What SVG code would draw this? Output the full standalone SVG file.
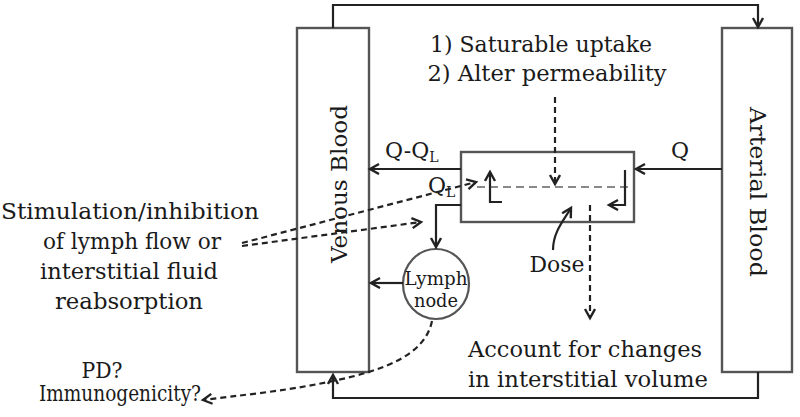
<svg xmlns="http://www.w3.org/2000/svg" width="800" height="417" viewBox="0 0 800 417">
<style>
  text { font-family: "DejaVu Serif", "Liberation Serif", serif; fill: #1a1a1a; }
  .box { fill: #fff; stroke: #555; stroke-width: 2.4; }
  .ln { fill: none; stroke: #222; stroke-width: 2.2; }
  .dash { fill: none; stroke: #222; stroke-width: 2.2; stroke-dasharray: 6 4; }
  .mid { fill: none; stroke: #888; stroke-width: 2.2; stroke-dasharray: 8 5; }
</style>
<defs>
  <marker id="ah" markerUnits="userSpaceOnUse" markerWidth="14" markerHeight="14" refX="10" refY="6" orient="auto">
    <path d="M1,1 L10,6 L1,11" fill="none" stroke="#222" stroke-width="2.4"/>
  </marker>
</defs>
<rect width="800" height="417" fill="#fff"/>

<g id="venous">
  <rect class="box" x="297" y="28" width="72" height="344"/>
  <text transform="translate(347,184) rotate(-90)" font-size="23" text-anchor="middle" textLength="158" lengthAdjust="spacingAndGlyphs">Venous Blood</text>
</g>
<g id="arterial">
  <rect class="box" x="722" y="28" width="70" height="344"/>
  <text transform="translate(750,192) rotate(90)" font-size="23" text-anchor="middle" textLength="170" lengthAdjust="spacingAndGlyphs">Arterial Blood</text>
</g>
<g id="tissue">
  <rect class="box" x="461" y="152" width="173" height="70"/>
  <path class="mid" d="M477,187 H633"/>
</g>
<g id="lymph">
  <ellipse cx="436" cy="284" rx="33" ry="35" fill="#fff" stroke="#555" stroke-width="2.2"/>
  <text x="436" y="285" font-size="19" text-anchor="middle" textLength="63" lengthAdjust="spacingAndGlyphs">Lymph</text>
  <text x="436" y="307" font-size="19" text-anchor="middle" textLength="44" lengthAdjust="spacingAndGlyphs">node</text>
</g>

<g id="labels">
  <text x="541" y="52" font-size="22" text-anchor="middle" textLength="222" lengthAdjust="spacingAndGlyphs">1) Saturable uptake</text>
  <text x="547" y="81" font-size="22" text-anchor="middle" textLength="239" lengthAdjust="spacingAndGlyphs">2) Alter permeability</text>
  <text x="385" y="158" font-size="22">Q-Q<tspan font-size="14" dy="4">L</tspan></text>
  <text x="428" y="193" font-size="22">Q<tspan font-size="14" dy="4">L</tspan></text>
  <text x="671" y="158" font-size="22">Q</text>
  <text x="557" y="272" font-size="22" text-anchor="middle" textLength="55" lengthAdjust="spacingAndGlyphs">Dose</text>
  <text x="585" y="357" font-size="22" text-anchor="middle" textLength="234" lengthAdjust="spacingAndGlyphs">Account for changes</text>
  <text x="588" y="387" font-size="22" text-anchor="middle" textLength="240" lengthAdjust="spacingAndGlyphs">in interstitial volume</text>
  <text x="130" y="219" font-size="23" text-anchor="middle" textLength="258" lengthAdjust="spacingAndGlyphs">Stimulation/inhibition</text>
  <text x="132" y="249" font-size="23" text-anchor="middle" textLength="178" lengthAdjust="spacingAndGlyphs">of lymph flow or</text>
  <text x="129" y="279" font-size="23" text-anchor="middle" textLength="178" lengthAdjust="spacingAndGlyphs">interstitial fluid</text>
  <text x="129" y="309" font-size="23" text-anchor="middle" textLength="148" lengthAdjust="spacingAndGlyphs">reabsorption</text>
  <text x="102" y="378" font-size="22" text-anchor="middle" textLength="41" lengthAdjust="spacingAndGlyphs">PD?</text>
  <text x="120" y="401" font-size="22" text-anchor="middle" textLength="162" lengthAdjust="spacingAndGlyphs">Immunogenicity?</text>
</g>

<g id="connectors">
  <path class="ln" d="M333,28 V5 H758 V27" marker-end="url(#ah)"/>
  <path class="ln" d="M758,372 V398 H333 V375" marker-end="url(#ah)"/>
  <path class="ln" d="M722,169 H636" marker-end="url(#ah)"/>
  <path class="ln" d="M461,169 H370" marker-end="url(#ah)"/>
  <path class="ln" d="M461,205 H436 V247" marker-end="url(#ah)"/>
  <path class="ln" d="M403,283 H371" marker-end="url(#ah)"/>
  <path class="ln" d="M502,202 H490 V172" marker-end="url(#ah)"/>
  <path class="ln" d="M625,170 V205 H609" marker-end="url(#ah)"/>
  <path class="ln" d="M553,250 C553,232 564,220 571,208" marker-end="url(#ah)"/>
  <path class="dash" d="M555,97 V184" marker-end="url(#ah)"/>
  <path class="dash" d="M590,205 V318" marker-end="url(#ah)"/>
  <path class="dash" d="M242,243 L476,182" marker-end="url(#ah)"/>
  <path class="dash" d="M242,246 L421,222" marker-end="url(#ah)"/>
  <path class="dash" d="M432,321 C425,355 385,370 333,381 S 240,395 203,400" marker-end="url(#ah)"/>
</g>
</svg>
